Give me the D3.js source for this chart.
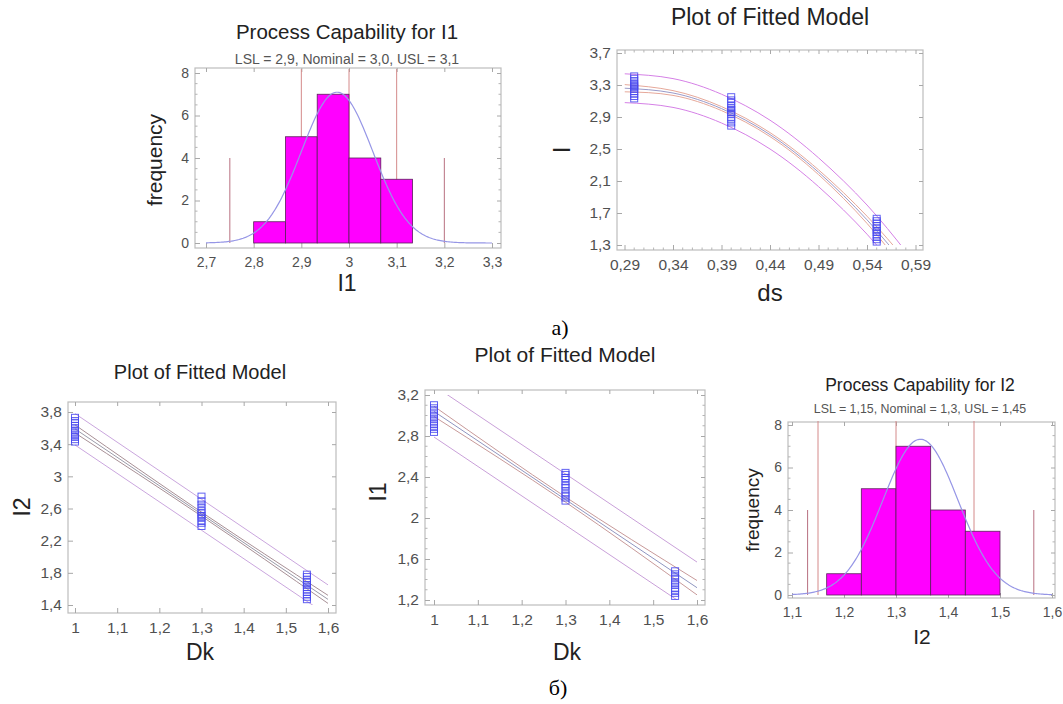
<!DOCTYPE html>
<html>
<head>
<meta charset="utf-8">
<script src="https://cdn.jsdelivr.net/npm/d3@7"></script>
<style>
  body { margin: 0; background: #fff; }
  text { font-family: "Liberation Sans", Arial, sans-serif; }
</style>
</head>
<body>
<svg id="chart" width="1063" height="704"></svg>
<script>
// ---- Panel 1: Process Capability for I1 ----
const p1Edges = [2.8, 2.8667, 2.9333, 3.0, 3.0667, 3.1333];
const p1Counts = [1, 5, 7, 4, 3];
const p1Specs = [2.9, 3.0, 3.1];
const p1Sigma3 = [2.75, 3.2];
const p1Mean = 2.975, p1Sd = 0.075;
const p1XTicks = [2.7, 2.8, 2.9, 3, 3.1, 3.2, 3.3];
const p1YTicks = [0, 2, 4, 6, 8];

// ---- Panel 2: I vs ds ----
const p2XTicks = [0.29, 0.34, 0.39, 0.44, 0.49, 0.54, 0.59];
const p2YTicks = [1.3, 1.7, 2.1, 2.5, 2.9, 3.3, 3.7];
const p2LineX = [0.29, 0.34, 0.39, 0.44, 0.49, 0.54, 0.58];
const p2Fit    = [3.26, 3.20, 3.005, 2.68, 2.21, 1.615, 1.04];
const p2ConfUp = [3.305, 3.23, 3.03, 2.705, 2.24, 1.66, 1.11];
const p2ConfLo = [3.215, 3.17, 2.98, 2.655, 2.18, 1.57, 0.97];
const p2PredUp = [3.44, 3.38, 3.185, 2.86, 2.39, 1.80, 1.22];
const p2PredLo = [3.08, 3.02, 2.825, 2.50, 2.03, 1.435, 0.86];
const p2PtX = [0.30, 0.40, 0.55];
const p2PtY = [
  [3.12, 3.15, 3.18, 3.21, 3.24, 3.26, 3.28, 3.29, 3.31, 3.33, 3.36, 3.39, 3.42],
  [2.78, 2.82, 2.86, 2.89, 2.93, 2.95, 2.97, 3.0, 3.02, 3.05, 3.09, 3.12, 3.16],
  [1.33, 1.36, 1.39, 1.42, 1.45, 1.47, 1.49, 1.52, 1.55, 1.58, 1.61, 1.64]
];

// ---- Panel 3: I2 vs Dk ----
const p3XTicks = [1, 1.1, 1.2, 1.3, 1.4, 1.5, 1.6];
const p3YTicks = [1.4, 1.8, 2.2, 2.6, 3, 3.4, 3.8];
const p3LineX = [1, 1.3, 1.6];
const p3Fit    = [3.59, 2.53, 1.47];
const p3ConfUp = [3.64, 2.555, 1.52];
const p3ConfLo = [3.54, 2.505, 1.42];
const p3PredUp = [3.78, 2.715, 1.65];
const p3PredLo = [3.39, 2.33, 1.27];
const p3PtX = [1, 1.3, 1.55];
const p3PtY = [
  [3.42, 3.45, 3.48, 3.5, 3.53, 3.56, 3.58, 3.61, 3.64, 3.67, 3.7, 3.74],
  [2.37, 2.41, 2.44, 2.48, 2.5, 2.52, 2.55, 2.58, 2.62, 2.66, 2.7, 2.76],
  [1.46, 1.49, 1.52, 1.55, 1.58, 1.61, 1.64, 1.66, 1.69, 1.72, 1.76, 1.79]
];

// ---- Panel 4: I1 vs Dk ----
const p4XTicks = [1, 1.1, 1.2, 1.3, 1.4, 1.5, 1.6];
const p4YTicks = [1.2, 1.6, 2, 2.4, 2.8, 3.2];
const p4LineX = [1, 1.3, 1.6];
const p4Fit    = [3.04, 2.18, 1.32];
const p4ConfUp = [3.09, 2.205, 1.39];
const p4ConfLo = [2.99, 2.155, 1.25];
const p4PredUp = [3.29, 2.43, 1.57];
const p4PredLo = [2.79, 1.93, 1.07];
const p4PtX = [1, 1.3, 1.55];
const p4PtY = [
  [2.83, 2.86, 2.89, 2.91, 2.93, 2.96, 2.98, 3.0, 3.02, 3.05, 3.08, 3.11],
  [2.16, 2.19, 2.22, 2.24, 2.27, 2.3, 2.32, 2.35, 2.38, 2.4, 2.43, 2.45],
  [1.23, 1.26, 1.29, 1.31, 1.34, 1.36, 1.38, 1.41, 1.43, 1.46, 1.49]
];

// ---- Panel 5: Process Capability for I2 ----
const p5Edges = [1.1667, 1.2333, 1.3, 1.3667, 1.4333, 1.5];
const p5Counts = [1, 5, 7, 4, 3];
const p5Specs = [1.15, 1.3, 1.45];
const p5Sigma3 = [1.13, 1.565];
const p5Mean = 1.347, p5Sd = 0.0725;
const p5XTicks = [1.1, 1.2, 1.3, 1.4, 1.5, 1.6];
const p5YTicks = [0, 2, 4, 6, 8];

const svg = d3.select("#chart");
svg.append("rect").attr("width", 1063).attr("height", 704).attr("fill", "#fff");

const locale = d3.formatLocale({ decimal: ",", thousands: " ", grouping: [3], currency: ["", ""] });
const fmt = locale.format("~g");

// minor tick values between majors
function minors(ticks, n) {
  const out = [];
  for (let i = 0; i < ticks.length - 1; i++) {
    const step = (ticks[i + 1] - ticks[i]) / n;
    for (let k = 1; k < n; k++) out.push(ticks[i] + k * step);
  }
  return out;
}

// frame, ticks and labels for one panel
function drawFrame(c) {
  const g = svg.append("g");
  const x = d3.scaleLinear().domain(d3.extent(c.xTicks)).range(c.xRange);
  const y = d3.scaleLinear().domain(d3.extent(c.yTicks)).range(c.yRange);
  const [fl, ft, fr, fb] = c.frame;

  g.append("rect")
    .attr("x", fl).attr("y", ft).attr("width", fr - fl).attr("height", fb - ft)
    .attr("fill", "none").attr("stroke", "#bdbdbd").attr("stroke-width", 1.2);

  const style = a => {
    a.select(".domain").remove();
    a.selectAll("line").attr("stroke", "#a8a8a8");
    a.selectAll("text").attr("fill", "#505050").style("font-size", c.tickFont + "px");
  };

  g.append("g").attr("transform", `translate(0,${fb})`)
    .call(d3.axisBottom(x).tickValues(c.xTicks).tickSize(-5).tickPadding(c.xPad).tickFormat(fmt)).call(style);
  g.append("g").attr("transform", `translate(0,${ft})`)
    .call(d3.axisTop(x).tickValues(c.xTicks).tickSize(-4).tickFormat("")).call(style);
  g.append("g").attr("transform", `translate(${fl},0)`)
    .call(d3.axisLeft(y).tickValues(c.yTicks).tickSize(-5).tickPadding(c.yPad).tickFormat(fmt)).call(style);
  g.append("g").attr("transform", `translate(${fr},0)`)
    .call(d3.axisRight(y).tickValues(c.yTicks).tickSize(-4).tickFormat("")).call(style);

  // minor ticks
  const mx = minors(c.xTicks, c.xMinor), my = minors(c.yTicks, c.yMinor);
  g.append("g").attr("stroke", "#b5b5b5").selectAll("line.mxb").data(mx).join("line")
    .attr("x1", d => x(d)).attr("x2", d => x(d)).attr("y1", fb).attr("y2", fb - 2.5);
  g.append("g").attr("stroke", "#b5b5b5").selectAll("line.mxt").data(mx).join("line")
    .attr("x1", d => x(d)).attr("x2", d => x(d)).attr("y1", ft).attr("y2", ft + 2.5);
  g.append("g").attr("stroke", "#b5b5b5").selectAll("line.myl").data(my).join("line")
    .attr("y1", d => y(d)).attr("y2", d => y(d)).attr("x1", fl).attr("x2", fl + 2.5);
  g.append("g").attr("stroke", "#b5b5b5").selectAll("line.myr").data(my).join("line")
    .attr("y1", d => y(d)).attr("y2", d => y(d)).attr("x1", fr).attr("x2", fr - 2.5);

  // titles
  g.append("text").attr("x", c.title[1]).attr("y", c.title[2])
    .attr("text-anchor", "middle").attr("fill", "#222").style("font-size", c.title[3] + "px").text(c.title[0]);
  if (c.sub) {
    g.append("text").attr("x", c.sub[1]).attr("y", c.sub[2])
      .attr("text-anchor", "middle").attr("fill", "#555").style("font-size", c.sub[3] + "px").text(c.sub[0]);
  }
  g.append("text").attr("x", c.xLabel[1]).attr("y", c.xLabel[2])
    .attr("text-anchor", "middle").attr("dy", "0.35em").attr("fill", "#222")
    .style("font-size", c.xLabel[3] + "px").text(c.xLabel[0]);
  g.append("text").attr("transform", `translate(${c.yLabel[1]},${c.yLabel[2]}) rotate(-90)`)
    .attr("text-anchor", "middle").attr("dy", "0.35em").attr("fill", "#222")
    .style("font-size", c.yLabel[3] + "px").text(c.yLabel[0]);

  return { g, x, y };
}

// histogram with spec lines and fitted normal curve
function drawCapability(p, edges, counts, specs, sigma3, mean, sd) {
  const { g, x, y } = p;
  const top = y.range()[1] - 4;
  g.append("g").attr("stroke", "#d48a8a").attr("stroke-width", 1)
    .selectAll("line").data(specs).join("line")
    .attr("x1", d => x(d)).attr("x2", d => x(d)).attr("y1", y(0)).attr("y2", top);
  g.append("g").attr("stroke", "#b87080").attr("stroke-width", 1)
    .selectAll("line").data(sigma3).join("line")
    .attr("x1", d => x(d)).attr("x2", d => x(d)).attr("y1", y(0)).attr("y2", y(4));

  g.append("g").selectAll("rect").data(counts).join("rect")
    .attr("x", (d, i) => x(edges[i]))
    .attr("width", (d, i) => x(edges[i + 1]) - x(edges[i]))
    .attr("y", d => y(d)).attr("height", d => y(0) - y(d))
    .attr("fill", "#ff00ff").attr("stroke", "#5a205a").attr("stroke-width", 0.8);

  const n = d3.sum(counts), bw = edges[1] - edges[0];
  const xd = x.domain();
  const pts = d3.range(xd[0], xd[1] + 1e-9, (xd[1] - xd[0]) / 200).map(v =>
    [v, n * bw * Math.exp(-0.5 * ((v - mean) / sd) ** 2) / (sd * Math.sqrt(2 * Math.PI))]);
  g.append("path").datum(pts)
    .attr("d", d3.line().x(d => x(d[0])).y(d => y(d[1])))
    .attr("fill", "none").attr("stroke", "#9696e6").attr("stroke-width", 1.2);
}

// fitted model lines + observations
let clipId = 0;
function drawFitted(p, lineX, lines, ptX, ptY) {
  const { g, x, y } = p;
  const id = "clip" + (clipId++);
  const [x0, x1] = x.range(), [y0, y1] = y.range();
  g.append("clipPath").attr("id", id).append("rect")
    .attr("x", x0).attr("y", y1).attr("width", x1 - x0).attr("height", y0 - y1);
  const lineGen = d3.line().x(d => x(d[0])).y(d => y(d[1])).curve(d3.curveNatural);
  const lg = g.append("g").attr("clip-path", `url(#${id})`);
  lines.forEach(l => {
    lg.append("path").datum(lineX.map((v, i) => [v, l.values[i]]))
      .attr("d", lineGen).attr("fill", "none")
      .attr("stroke", l.color).attr("stroke-width", l.width || 1);
  });
  const pts = ptX.flatMap((v, i) => ptY[i].map(w => [v, w]));
  g.append("g").selectAll("rect").data(pts).join("rect")
    .attr("x", d => x(d[0]) - 3.5).attr("y", d => y(d[1]) - 2.5)
    .attr("width", 7).attr("height", 5)
    .attr("fill", "none").attr("stroke", "#4646ee").attr("stroke-opacity", 0.85).attr("stroke-width", 1);
}

// Panel 1
const p1 = drawFrame({
  xTicks: p1XTicks, yTicks: p1YTicks, xRange: [206, 492], yRange: [243, 73],
  frame: [195, 68, 501, 248], xMinor: 1, yMinor: 4, tickFont: 14, xPad: 9, yPad: 6,
  title: ["Process Capability for I1", 347, 39, 20.5], sub: ["LSL = 2,9, Nominal = 3,0, USL = 3,1", 347, 64, 14],
  xLabel: ["I1", 347, 283, 23], yLabel: ["frequency", 155, 160, 21]
});
drawCapability(p1, p1Edges, p1Counts, p1Specs, p1Sigma3, p1Mean, p1Sd);

// Panel 2
const p2 = drawFrame({
  xTicks: p2XTicks, yTicks: p2YTicks, xRange: [624.5, 915.5], yRange: [245, 53],
  frame: [617, 50, 923, 250], xMinor: 5, yMinor: 1, tickFont: 15.5, xPad: 9, yPad: 6,
  title: ["Plot of Fitted Model", 770, 25, 23],
  xLabel: ["ds", 770, 293, 24], yLabel: ["I", 562, 150, 24]
});
drawFitted(p2, p2LineX, [
  { values: p2PredUp, color: "#d580e6" }, { values: p2PredLo, color: "#d580e6" },
  { values: p2ConfUp, color: "#e6a89a" }, { values: p2ConfLo, color: "#e6a89a" },
  { values: p2Fit, color: "#9a9ac8" }
], p2PtX, p2PtY);

// Panel 3
const p3 = drawFrame({
  xTicks: p3XTicks, yTicks: p3YTicks, xRange: [75, 328], yRange: [605, 412],
  frame: [68, 402, 336, 613], xMinor: 1, yMinor: 1, tickFont: 15.5, xPad: 9, yPad: 6,
  title: ["Plot of Fitted Model", 200, 379, 20],
  xLabel: ["Dk", 200, 652, 23], yLabel: ["I2", 22, 507, 23]
});
drawFitted(p3, p3LineX, [
  { values: p3PredUp, color: "#caa6de" }, { values: p3PredLo, color: "#caa6de" },
  { values: p3ConfUp, color: "#a89096" }, { values: p3ConfLo, color: "#a89096" },
  { values: p3Fit, color: "#9a9aa8" }
], p3PtX, p3PtY);

// Panel 4
const p4 = drawFrame({
  xTicks: p4XTicks, yTicks: p4YTicks, xRange: [434, 697], yRange: [600, 395],
  frame: [425, 390, 705, 605], xMinor: 1, yMinor: 4, tickFont: 15.5, xPad: 9, yPad: 6,
  title: ["Plot of Fitted Model", 565, 362, 21],
  xLabel: ["Dk", 567, 652, 23], yLabel: ["I1", 378, 492, 23]
});
drawFitted(p4, p4LineX, [
  { values: p4PredUp, color: "#c9a0d9" }, { values: p4PredLo, color: "#c9a0d9" },
  { values: p4ConfUp, color: "#c89a9a" }, { values: p4ConfLo, color: "#c89a9a" },
  { values: p4Fit, color: "#8f96c0" }
], p4PtX, p4PtY);

// Panel 5
const p5 = drawFrame({
  xTicks: p5XTicks, yTicks: p5YTicks, xRange: [792, 1052], yRange: [595, 425],
  frame: [788, 422, 1055, 598], xMinor: 1, yMinor: 4, tickFont: 14, xPad: 9, yPad: 6,
  title: ["Process Capability for I2", 920, 391, 17.5], sub: ["LSL = 1,15, Nominal = 1,3, USL = 1,45", 920, 413, 12.4],
  xLabel: ["I2", 922, 637, 21], yLabel: ["frequency", 752, 510, 19]
});
drawCapability(p5, p5Edges, p5Counts, p5Specs, p5Sigma3, p5Mean, p5Sd);

// captions
svg.append("text").attr("x", 560).attr("y", 335).attr("text-anchor", "middle")
  .style("font-family", "'Liberation Serif', 'Times New Roman', serif").style("font-size", "22px").text("a)");
svg.append("text").attr("x", 558).attr("y", 695).attr("text-anchor", "middle")
  .style("font-family", "'Liberation Serif', 'Times New Roman', serif").style("font-size", "22px").text("б)");
</script>
</body>
</html>
